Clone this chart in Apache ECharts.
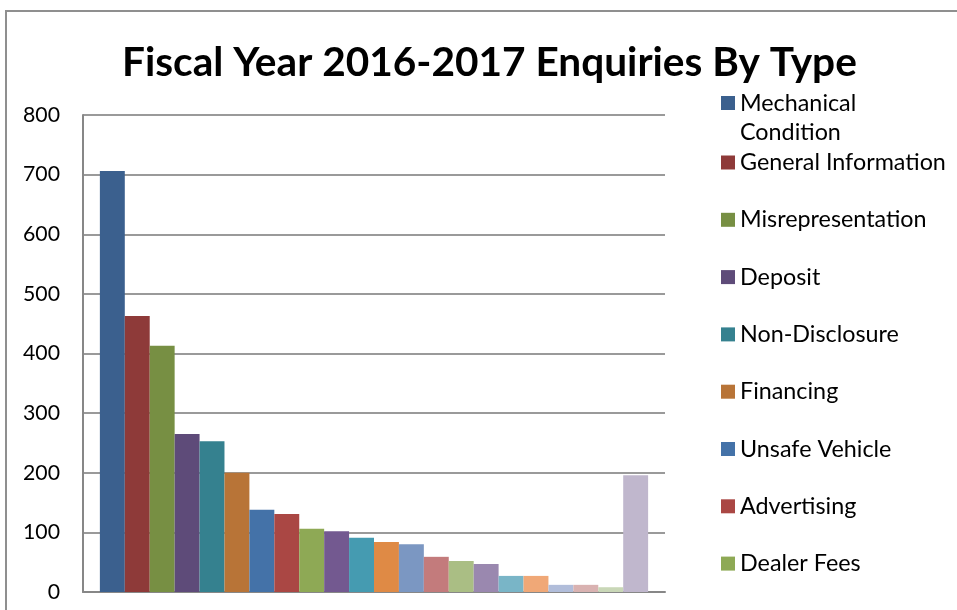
<!DOCTYPE html>
<html><head><meta charset="utf-8">
<script src="https://cdn.jsdelivr.net/npm/echarts@6/dist/echarts.min.js"></script>
<style>html,body{margin:0;padding:0;background:#fff}#chart{width:957px;height:610px}</style>
</head><body><div id="chart"></div>
<script>
const titleText = 'Fiscal Year 2016-2017 Enquiries By Type';
const categories = ['FY 2016-2017'];
const seriesNames = ['Mechanical Condition','General Information','Misrepresentation','Deposit','Non-Disclosure','Financing','Unsafe Vehicle','Advertising','Dealer Fees',
  'Type 10','Type 11','Type 12','Type 13','Type 14','Type 15','Type 16','Type 17','Type 18','Type 19','Type 20','Type 21','Type 22'];
const seriesValues = [706,463,413,265,253,200,138,131,106,102,91,84,80,59,52,47,27,27,12,12,8,196];
const seriesColors = ['#3B608E','#8E3A39','#778F43','#5E4B79','#35818F','#B87437','#4472A8','#AA4744','#8EA955','#735990','#459BB1','#DF8A45',
  '#7B97C2','#C37B7C','#AABE84','#9A88AF','#79B5C7','#F0A877','#B1BDDA','#D9B2B1','#C9D7B7','#C0B7CD'];
const yMin = 0, yMax = 800, yStep = 100;
const legendCount = 9;

function fitSize(text, weight, family, target) {
  const c = document.createElement('canvas').getContext('2d');
  c.font = weight + ' 100px ' + family;
  return 100 * target / c.measureText(text).width;
}
const FONT = 'Lato';
const titleSize = fitSize(titleText, 'bold', FONT, 735);
const legendSize = fitSize('General Information', 'normal', FONT, 206);
const axisSize = fitSize('800', 'normal', FONT, 37);

const chart = echarts.init(document.getElementById('chart'), null, {renderer: 'canvas'});
const series = seriesNames.map((n, i) => ({
  type: 'bar', name: n, data: [seriesValues[i]],
  itemStyle: {color: seriesColors[i]},
  barGap: '0%', barCategoryGap: '5.8%'
}));
chart.setOption({
  animation: false,
  backgroundColor: '#fff',
  title: {
    text: titleText, left: 122, top: 68 - titleSize * 0.63,
    padding: 0,
    textStyle: {fontFamily: FONT, fontWeight: 'bold', fontSize: titleSize, color: '#000'}
  },
  graphic: [{type: 'rect', shape: {x: 6, y: 11, width: 1000, height: 700}, style: {fill: 'none', stroke: '#8f8f8f', lineWidth: 2}, silent: true}],
  legend: [
    {
      data: seriesNames.slice(0, 1), orient: 'vertical', left: 721, top: 59.5, padding: 0,
      itemWidth: 14, itemHeight: 14, icon: 'rect',
      formatter: n => ' \n' + n.replace(' ', '\n'),
      textStyle: {fontFamily: FONT, fontSize: legendSize, color: '#000', lineHeight: 29}
    },
    {
      data: seriesNames.slice(1, legendCount), orient: 'vertical', left: 721, top: 151, padding: 0,
      itemWidth: 14, itemHeight: 14, icon: 'rect', itemGap: 34.3,
      textStyle: {fontFamily: FONT, fontSize: legendSize, color: '#000', lineHeight: 20}
    }
  ],
  grid: {left: 83, right: 292, top: 115, bottom: 18, containLabel: false},
  xAxis: {
    type: 'category', data: categories,
    axisLabel: {show: false}, axisTick: {show: false},
    axisLine: {show: true, lineStyle: {color: '#878787', width: 2}}
  },
  yAxis: {
    type: 'value', min: yMin, max: yMax, interval: yStep,
    axisLine: {show: true, lineStyle: {color: '#878787', width: 2}},
    axisTick: {show: false},
    axisLabel: {fontFamily: FONT, fontSize: axisSize, color: '#000', margin: 23},
    splitLine: {lineStyle: {color: '#9a9a9a', width: 2}}
  },
  series: series
});
</script></body></html>
